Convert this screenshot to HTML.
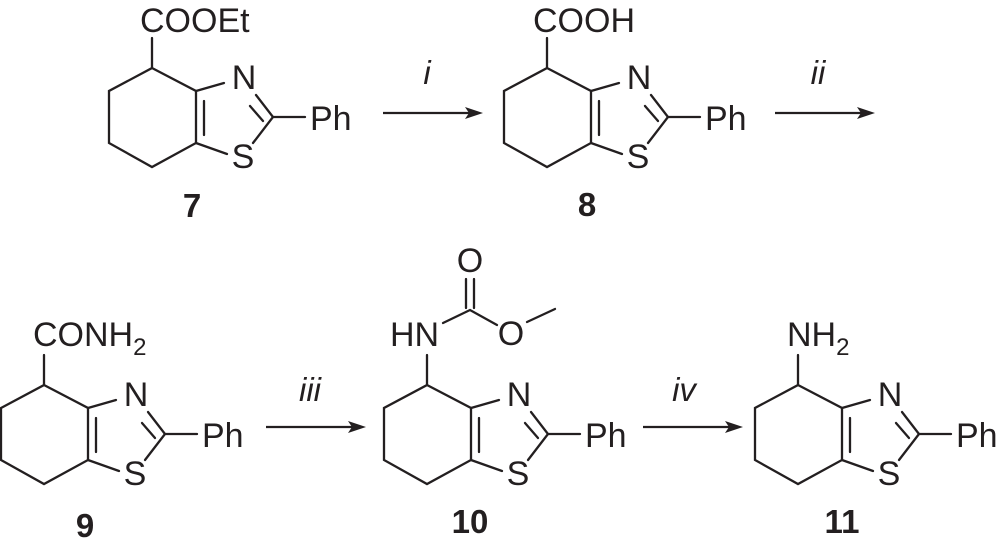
<!DOCTYPE html>
<html><head><meta charset="utf-8"><style>
html,body{margin:0;padding:0;background:#fff;}
svg{display:block;}
text{font-family:"Liberation Sans",sans-serif;fill:#231f20;}
.t{font-size:34px;}
.sub{font-size:24px;}
.lab{font-size:33px;font-weight:bold;}
.it{font-size:33px;font-style:italic;}
</style></head><body>
<svg width="1000" height="542" viewBox="0 0 1000 542" xmlns="http://www.w3.org/2000/svg">
<defs>
<g id="core" stroke="#231f20" stroke-width="2.3" fill="none" stroke-linecap="round">
<path d="M0,-30 L0,0 L-43,23 L-43,75 L0,99 L44,75 L44,23 L0,0"/>
<path d="M44,23 L72,15"/>
<path d="M52,33 L52,67"/>
<path d="M44,75 L75,86"/>
<path d="M101,75 L121,49 L104,27"/>
<path d="M98,38 L111,53"/>
<path d="M121,49 L153,49"/>
</g>
<g id="lbl">
<text class="t" x="92" y="21" text-anchor="middle">N</text>
<text class="t" x="91" y="100" text-anchor="middle">S</text>
<text class="t" x="158" y="62">Ph</text>
</g>
<g id="arr">
<path d="M0,0 L86,0" stroke="#231f20" stroke-width="2.3"/>
<path d="M100,0 L82,-6 L86,0 L82,6 Z" fill="#231f20"/>
</g>
</defs>

<g transform="translate(152,68)"><use href="#core"/><use href="#lbl"/></g>
<text class="t" x="140" y="32">COOEt</text>
<text class="lab" x="192" y="217" text-anchor="middle">7</text>

<use href="#arr" transform="translate(383,113)"/>
<text class="it" x="427" y="84" text-anchor="middle">i</text>

<g transform="translate(547,68)"><use href="#core"/><use href="#lbl"/></g>
<text class="t" x="533" y="32">COOH</text>
<text class="lab" x="587" y="216" text-anchor="middle">8</text>

<use href="#arr" transform="translate(775,113)"/>
<text class="it" x="818" y="84" text-anchor="middle">ii</text>

<g transform="translate(44,385)"><use href="#core"/><use href="#lbl"/></g>
<text class="t" x="33" y="346">CONH<tspan class="sub" dy="9">2</tspan></text>
<text class="lab" x="85" y="537" text-anchor="middle">9</text>

<use href="#arr" transform="translate(266,427)"/>
<text class="it" x="310" y="401" text-anchor="middle">iii</text>

<g transform="translate(427,385)"><use href="#core"/><use href="#lbl"/></g>
<text class="t" x="390" y="346">HN</text>
<g stroke="#231f20" stroke-width="2.3" fill="none" stroke-linecap="round">
<path d="M443,323 L470,310 L497,325"/>
<path d="M466,308 L466,279 M474,308 L474,279"/>
<path d="M527,322 L555,309"/>
</g>
<text class="t" x="470" y="272" text-anchor="middle">O</text>
<text class="t" x="511" y="345" text-anchor="middle">O</text>
<text class="lab" x="470" y="533" text-anchor="middle">10</text>

<use href="#arr" transform="translate(643,427)"/>
<text class="it" x="684" y="401" text-anchor="middle">iv</text>

<g transform="translate(798,385)"><use href="#core"/><use href="#lbl"/></g>
<text class="t" x="787" y="346">NH<tspan class="sub" dy="9">2</tspan></text>
<text class="lab" x="842" y="533" text-anchor="middle">11</text>
</svg>
</body></html>
